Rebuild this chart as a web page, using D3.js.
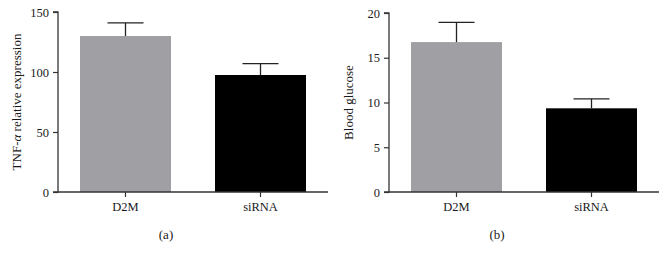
<html>
<head>
<script src="https://d3js.org/d3.v7.min.js"></script>
<style>
body {margin: 0; background: white;}
text {font-family: "Liberation Serif", "Times New Roman", serif; fill: #1a1a1a;}
</style>
</head>
<body>
<svg width="668" height="260"></svg>
<script>
var groups = ['D2M', 'siRNA'];
var colors = ['#a09fa4', '#000000'];

// panel (a)
var tnfMean = [130, 97.5];
var tnfErr = [141, 107];
var tnfTicks = [0, 50, 100, 150];

// panel (b)
var glucoseMean = [16.75, 9.35];
var glucoseErr = [18.95, 10.4];
var glucoseTicks = [0, 5, 10, 15, 20];

var svg = d3.select('svg');

function panel(left, top, bottom, ymax, ticks, means, errs, ylabel, ylabelX, tag, tagX) {
  var x = d3.scaleBand().domain(groups).range([left, left + 270])
    .paddingInner(0.326).paddingOuter(0.163);
  var y = d3.scaleLinear().domain([0, ymax]).range([bottom, top]);

  var g = svg.append('g');

  g.selectAll('rect.bar').data(groups).enter().append('rect')
    .attr('class', 'bar')
    .attr('x', function(d) { return x(d); })
    .attr('width', x.bandwidth())
    .attr('y', function(d, i) { return y(means[i]); })
    .attr('height', function(d, i) { return bottom - y(means[i]); })
    .style('fill', function(d, i) { return colors[i]; });

  // error bars (upper only)
  g.selectAll('line.err').data(groups).enter().append('line')
    .attr('x1', function(d) { return x(d) + x.bandwidth() / 2; })
    .attr('x2', function(d) { return x(d) + x.bandwidth() / 2; })
    .attr('y1', function(d, i) { return y(means[i]); })
    .attr('y2', function(d, i) { return y(errs[i]); })
    .style('stroke', '#222').style('stroke-width', 1.3);
  g.selectAll('line.cap').data(groups).enter().append('line')
    .attr('x1', function(d) { return x(d) + x.bandwidth() / 2 - 18; })
    .attr('x2', function(d) { return x(d) + x.bandwidth() / 2 + 18; })
    .attr('y1', function(d, i) { return y(errs[i]); })
    .attr('y2', function(d, i) { return y(errs[i]); })
    .style('stroke', '#222').style('stroke-width', 1.3);

  var yAxis = d3.axisLeft(y).tickValues(ticks).tickSize(5).tickPadding(4);
  var ya = g.append('g').attr('transform', 'translate(' + left + ',0)').call(yAxis);
  var xAxis = d3.axisBottom(x).tickSize(5).tickPadding(5);
  var xa = g.append('g').attr('transform', 'translate(0,' + bottom + ')').call(xAxis);
  [ya, xa].forEach(function(a) {
    a.select('.domain').style('stroke', '#333').style('stroke-width', 1.3);
    a.selectAll('.tick line').style('stroke', '#333').style('stroke-width', 1.2);
    a.selectAll('.tick text').style('font-family', '"Liberation Serif", serif')
      .style('font-size', '12.5px').style('fill', '#1a1a1a');
  });
  ya.select('.domain').attr('d', 'M-5,' + top + 'H0V' + bottom + 'H-5');
  xa.select('.domain').attr('d', 'M' + left + ',0H' + (left + 270));

  var lab = g.append('text')
    .attr('transform', 'translate(' + ylabelX + ',' + ((top + bottom) / 2) + ') rotate(-90)')
    .attr('text-anchor', 'middle')
    .attr('dy', '0.35em')
    .style('font-size', '13px');
  ylabel.forEach(function(p) {
    lab.append('tspan').text(p[0]).style('font-style', p[1] ? 'italic' : 'normal');
  });

  g.append('text').attr('x', tagX).attr('y', 239)
    .attr('text-anchor', 'middle').style('font-size', '13px').text(tag);
}

panel(58, 12, 192, 150, tnfTicks, tnfMean, tnfErr,
  [['TNF-', false], ['\u03b1', true], [' relative expression', false]], 16, '(a)', 166);
panel(389, 13, 192, 20, glucoseTicks, glucoseMean, glucoseErr,
  [['Blood glucose', false]], 348, '(b)', 497);
</script>
</body>
</html>
